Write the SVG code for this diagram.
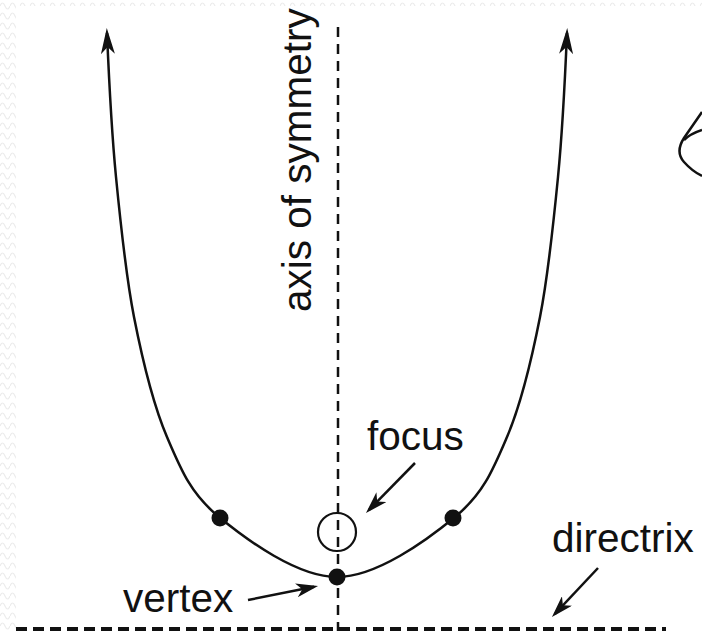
<svg xmlns="http://www.w3.org/2000/svg" width="702" height="631" viewBox="0 0 702 631">
  <style>
    .lbl { font-family: "Liberation Sans", Arial, sans-serif; font-size: 40.5px; fill: #111; }
    .ln { fill: none; stroke: #111; stroke-width: 2.5; }
    .dash { fill: none; stroke: #111; stroke-width: 2.5; stroke-dasharray: 10 7; }
    .dot { fill: #111; }
  </style>
  <defs>
    <pattern id="wave" width="10" height="10" patternUnits="userSpaceOnUse">
      <path d="M0,6 Q2.5,0 5,6 T10,6" fill="none" stroke="#ececec" stroke-width="1.2"/>
    </pattern>
    <marker id="headBig" markerUnits="userSpaceOnUse" viewBox="0 0 26 14" markerWidth="26" markerHeight="14" refX="21" refY="7" orient="auto-start-reverse">
      <path d="M26,7 L0,0 L7,7 L0,14 Z" fill="#111"/>
    </marker>
    <marker id="head" markerUnits="userSpaceOnUse" viewBox="0 0 22 14" markerWidth="22" markerHeight="14" refX="18" refY="7" orient="auto">
      <path d="M22,7 L0,0 L6,7 L0,14 Z" fill="#111"/>
    </marker>
  </defs>

  <rect x="0" y="0" width="702" height="631" fill="#fff"/>
  <rect x="0" y="0" width="16" height="631" fill="url(#wave)"/>
  <rect x="16" y="0" width="686" height="6" fill="url(#wave)"/>

  <g id="axis">
    <line class="dash" x1="338" y1="27" x2="338" y2="631"/>
  </g>

  <g id="directrix">
    <line x1="16" y1="629" x2="666" y2="629" fill="none" stroke="#111" stroke-width="4" stroke-dasharray="11 6"/>
  </g>

  <g id="parabola">
    <path class="ln" marker-start="url(#headBig)" marker-end="url(#headBig)"
      d="M107,33 C109,80 111.5,130.8 116,177 C120.5,223.2 125.5,273.7 134,317 C142.5,360.3 152.8,403.7 167,437 C181.2,470.3 190.7,493.7 219,517 C247.3,540.3 297.7,577 337,577 C376.3,577 426.7,540.3 455,517 C483.3,493.7 492.8,470.3 507,437 C521.2,403.7 531.5,360.3 540,317 C548.5,273.7 553.5,223.2 558,177 C562.5,130.8 565,80 567,33"/>
  </g>

  <g id="points">
    <circle class="dot" cx="220" cy="518" r="8.5"/>
    <circle class="dot" cx="453" cy="518" r="8.5"/>
  </g>

  <g id="focus">
    <circle cx="337" cy="532" r="19" fill="none" stroke="#111" stroke-width="2.2"/>
    <text class="lbl" x="367" y="450">focus</text>
  </g>

  <g id="vertex">
    <circle class="dot" cx="337" cy="577" r="8.5"/>
    <text class="lbl" x="123" y="612">vertex</text>
  </g>

  <g id="axis-label">
    <text class="lbl" transform="translate(311,312) rotate(-90)">axis of symmetry</text>
  </g>

  <g id="directrix-label">
    <text class="lbl" x="552" y="552">directrix</text>
  </g>

  <g id="connectors">
    <line class="ln" x1="415" y1="463" x2="368.8" y2="510.1" marker-end="url(#head)"/>
    <line class="ln" x1="248" y1="600" x2="314.1" y2="586.8" marker-end="url(#head)"/>
    <line class="ln" x1="598" y1="568" x2="554.7" y2="614.1" marker-end="url(#head)"/>
  </g>

  <g id="sketch">
    <path class="ln" d="M702,112 L684,138 Q675,152 684,162 Q692,171 702,176"/>
    <path class="ln" d="M702,130 Q690,134 684,140"/>
  </g>
</svg>
